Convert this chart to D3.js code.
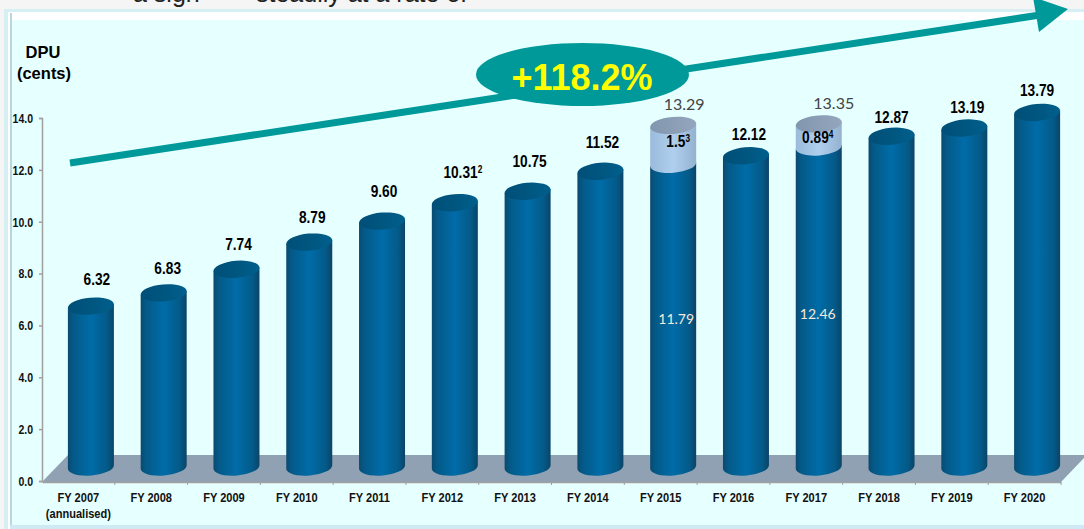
<!DOCTYPE html>
<html>
<head>
<meta charset="utf-8">
<script src="https://d3js.org/d3.v7.min.js"></script>
<style>
  html, body { margin: 0; padding: 0; background: #f5f5f5; overflow: hidden; }
  svg { display: block; }
  .axis text { font-family: 'Liberation Sans', sans-serif; font-weight: bold; font-size: 13.5px; fill: #111; }
  .axis path, .axis line { stroke: #a0a0a0; stroke-width: 1.5; }
  .bold-label { font-family: 'Liberation Sans', sans-serif; font-weight: bold; font-size: 16.5px; fill: #000; text-anchor: middle; }
  .thin-label { font-family: Lato, sans-serif; text-anchor: middle; }
</style>
</head>
<body>
<div id="chart"></div>
<script>
  const categories = ['FY 2007', 'FY 2008', 'FY 2009', 'FY 2010', 'FY 2011', 'FY 2012', 'FY 2013',
    'FY 2014', 'FY 2015', 'FY 2016', 'FY 2017', 'FY 2018', 'FY 2019', 'FY 2020'];
  const dpu = [6.32, 6.83, 7.74, 8.79, 9.6, 10.31, 10.75, 11.52, 11.79, 12.12, 12.46, 12.87, 13.19, 13.79];
  const extra = [0, 0, 0, 0, 0, 0, 0, 0, 1.5, 0, 0.89, 0, 0, 0];
  const footnotes = ['', '', '', '', '', '2', '', '', '3', '', '4', '', '', ''];
  const yTicks = [0, 2, 4, 6, 8, 10, 12, 14];
  const growthLabel = '+118.2%';

  const width = 1084;
  const height = 529;
  const margin = { top: 118, right: 23, bottom: 48, left: 42 };

  // the 3d look: bars stand back from the axis plane
  const depthX = 12.5;
  const depthY = 11;
  const baseY = 467;
  const barHalf = 23;
  const barRy = 8.5;
  const tiltDeg = -5;
  const tilt = barHalf * Math.tan((tiltDeg * Math.PI) / 180);

  // the labels were placed by hand in the original, so they need hand nudges
  const labelGap = {
    'FY 2007': [6, -21.5], 'FY 2008': [4, -18.5], 'FY 2009': [2, -19], 'FY 2010': [3, -19.5],
    'FY 2011': [2, -24.5], 'FY 2012': [8, -25], 'FY 2013': [2, -24], 'FY 2014': [2, -23],
    'FY 2016': [3, -16], 'FY 2018': [0, -13], 'FY 2019': [3, -14.5], 'FY 2020': [0, -16]
  };

  const svg = d3.select('#chart').append('svg')
    .attr('width', width)
    .attr('height', height);

  const xScale = d3.scaleBand()
    .domain(categories)
    .range([margin.left, width - margin.right]);

  const yScale = d3.scaleLinear()
    .domain([0, 14])
    .range([height - margin.bottom, margin.top]);

  const defs = svg.append('defs');

  function cylinderGradient(id, stops) {
    const g = defs.append('linearGradient').attr('id', id);
    stops.forEach(([offset, color]) => {
      g.append('stop').attr('offset', offset).attr('stop-color', color);
    });
  }
  cylinderGradient('barBody', [[0, '#0a4a70'], [0.12, '#045a88'], [0.5, '#006ca8'], [0.85, '#045a88'], [1, '#0b4468']]);
  cylinderGradient('barTop', [[0, '#004f78'], [0.5, '#00567f'], [1, '#005f8c']]);
  cylinderGradient('paleBody', [[0, '#9bbbdc'], [0.5, '#b0cfee'], [1, '#94b2d0']]);
  cylinderGradient('paleTop', [[0, '#8296ad'], [1, '#93a6bd']]);

  // the font list has no narrow face, so squeeze the text around its anchor
  function squeeze(sel, k) {
    sel.attr('transform', function () {
      const x = +d3.select(this).attr('x') || 0;
      return `translate(${x},0) scale(${k},1) translate(${-x},0)`;
    });
  }

  // slide frame
  svg.append('rect').attr('x', 4).attr('y', 9).attr('width', width).attr('height', height)
    .attr('fill', '#d6eff2');
  svg.append('rect').attr('x', 8).attr('y', 12).attr('width', width).attr('height', height)
    .attr('fill', '#ffffff');
  svg.append('rect').attr('x', 10).attr('y', 20).attr('width', width).attr('height', 525 - 20)
    .attr('fill', '#e6ffff');
  svg.append('rect').attr('x', 10).attr('y', 13).attr('width', 2).attr('height', 512)
    .attr('fill', '#b9d6e0');
  svg.append('rect').attr('x', 10).attr('y', 525).attr('width', width).attr('height', 4)
    .attr('fill', '#cfeaf4');

  // what is left of the heading, cut off by the crop
  svg.append('text').attr('x', 133).attr('y', 2)
    .style('font-family', 'Liberation Sans').style('font-size', '25px').style('fill', '#222')
    .text('a sign');
  svg.append('text').attr('x', 256).attr('y', 2)
    .style('font-family', 'Liberation Sans').style('font-size', '25px').style('fill', '#222')
    .text('steadily at a rate of');

  // floor
  const x0 = xScale.range()[0];
  const x1 = xScale.range()[1];
  const floorY = yScale(0) + 1;
  svg.append('path')
    .attr('d', d3.line()([[x0, floorY], [x1, floorY], [x1 + 26, floorY - 27], [x0 + 26, floorY - 27]]) + 'Z')
    .attr('fill', '#8fa1b2');

  const yAxis = d3.axisLeft(yScale)
    .tickValues(yTicks)
    .tickFormat(d3.format('.1f'))
    .tickSize(3)
    .tickPadding(6);
  const yG = svg.append('g')
    .attr('class', 'axis')
    .attr('transform', `translate(${margin.left},0)`)
    .call(yAxis);
  squeeze(yG.selectAll('text'), 0.78);

  const xAxis = d3.axisBottom(xScale).tickValues([]).tickSizeOuter(0);
  svg.append('g')
    .attr('class', 'axis')
    .attr('transform', `translate(0,${floorY})`)
    .call(xAxis);

  // band boundary ticks, d3 centres the stock ones
  svg.append('g').selectAll('line')
    .data(categories)
    .join('line')
    .attr('x1', (d) => xScale(d) + xScale.bandwidth())
    .attr('x2', (d) => xScale(d) + xScale.bandwidth())
    .attr('y1', floorY)
    .attr('y2', floorY + 3)
    .attr('stroke', '#a0a0a0');

  const catLabels = svg.append('g').attr('class', 'axis');
  catLabels.selectAll('text')
    .data(categories)
    .join('text')
    .attr('x', (d) => xScale(d) + xScale.bandwidth() / 2)
    .attr('y', 502)
    .attr('text-anchor', 'middle')
    .text((d) => d);
  catLabels.append('text')
    .attr('x', xScale(categories[0]) + xScale.bandwidth() / 2)
    .attr('y', 518)
    .attr('text-anchor', 'middle')
    .text('(annualised)');
  squeeze(catLabels.selectAll('text'), 0.82);

  const centre = (d) => xScale(d) + xScale.bandwidth() / 2 + depthX;
  const level = (v) => yScale(v) - depthY;

  // side walls plus the lower curve of one cylinder piece
  function bodyPath(cx, yTop, yBottom) {
    const r = barHalf / Math.cos((tiltDeg * Math.PI) / 180);
    return `M${cx - barHalf},${yTop - tilt}` +
      `L${cx - barHalf},${yBottom - tilt}` +
      `A${r},${barRy},${tiltDeg},0,0,${cx + barHalf},${yBottom + tilt}` +
      `L${cx + barHalf},${yTop + tilt}Z`;
  }

  function topEllipse(parent, cx, cy, fill) {
    parent.append('ellipse')
      .attr('cx', cx)
      .attr('cy', cy)
      .attr('rx', barHalf / Math.cos((tiltDeg * Math.PI) / 180))
      .attr('ry', barRy)
      .attr('transform', `rotate(${tiltDeg},${cx},${cy})`)
      .attr('fill', fill);
  }

  const rows = categories.map((c, i) => ({ c, value: dpu[i], extra: extra[i], note: footnotes[i] }));

  svg.append('g').selectAll('g')
    .data(rows)
    .join('g')
    .each(function (d) {
      const bar = d3.select(this);
      const cx = centre(d.c);
      bar.append('path')
        .attr('d', bodyPath(cx, level(d.value), baseY))
        .attr('fill', 'url(#barBody)');
      if (d.extra > 0) {
        // pale top-up sits over the dark body so its lower curve shows
        const total = d.value + d.extra;
        bar.append('path')
          .attr('d', bodyPath(cx, level(total), level(d.value)))
          .attr('fill', 'url(#paleBody)');
        topEllipse(bar, cx, level(total), 'url(#paleTop)');
      } else {
        topEllipse(bar, cx, level(d.value), 'url(#barTop)');
      }
    });

  // labels above the plain bars
  const plain = rows.filter((d) => d.extra === 0);
  const plainLabels = svg.append('g').selectAll('text')
    .data(plain)
    .join('text')
    .attr('class', 'bold-label')
    .attr('x', (d) => centre(d.c) + labelGap[d.c][0])
    .attr('y', (d) => level(d.value) + labelGap[d.c][1]);
  plainLabels.append('tspan').text((d) => d3.format('.2f')(d.value));
  plainLabels.filter((d) => d.note).append('tspan')
    .attr('dy', -5)
    .style('font-size', '10px')
    .text((d) => d.note);
  squeeze(plainLabels, 0.83);

  // stacked bars get the total, the top-up and the base
  const stacked = rows.filter((d) => d.extra > 0);
  svg.append('g').selectAll('text')
    .data(stacked)
    .join('text')
    .attr('class', 'thin-label')
    .attr('x', (d) => centre(d.c) + (d.c === 'FY 2015' ? 11 : 15))
    .attr('y', (d) => level(d.value + d.extra) - 15)
    .style('font-size', '16px')
    .attr('fill', '#444')
    .text((d) => d3.format('.2f')(d.value + d.extra));

  const topUp = svg.append('g').selectAll('text')
    .data(stacked)
    .join('text')
    .attr('class', 'bold-label')
    .attr('x', (d) => centre(d.c) + (d.c === 'FY 2015' ? 5 : -1))
    .attr('y', (d) => level(d.value + d.extra) + (d.c === 'FY 2015' ? 21.5 : 19));
  topUp.append('tspan').text((d) => d3.format('.3~f')(d.extra));
  topUp.append('tspan')
    .attr('dy', -5)
    .style('font-size', '10px')
    .text((d) => d.note);
  squeeze(topUp, 0.83);

  svg.append('g').selectAll('text')
    .data(stacked)
    .join('text')
    .attr('class', 'thin-label')
    .attr('x', (d) => centre(d.c) + (d.c === 'FY 2015' ? 3 : -1))
    .attr('y', (d) => (d.c === 'FY 2015' ? 324 : 319))
    .style('font-size', '14px')
    .attr('fill', '#f6e8d8')
    .text((d) => d3.format('.2f')(d.value));

  // growth arrow
  const arrowColor = '#009999';
  svg.append('line')
    .attr('x1', 70).attr('y1', 163)
    .attr('x2', 1040).attr('y2', 15)
    .attr('stroke', arrowColor)
    .attr('stroke-width', 7);
  svg.append('path')
    .attr('d', d3.line()([[1068, 9], [1039, 32], [1033, -3]]) + 'Z')
    .attr('fill', arrowColor);
  svg.append('ellipse')
    .attr('cx', 582.5).attr('cy', 74.5)
    .attr('rx', 106.5).attr('ry', 31.5)
    .attr('fill', arrowColor);
  svg.append('text')
    .attr('x', 582).attr('y', 90)
    .attr('text-anchor', 'middle')
    .style('font-family', 'Liberation Sans')
    .style('font-weight', 'bold')
    .style('font-size', '36px')
    .style('fill', '#ffff00')
    .text(growthLabel);

  // unit label
  const unit = svg.append('g')
    .style('font-family', 'Liberation Sans')
    .style('font-weight', 'bold')
    .style('font-size', '16.5px')
    .style('fill', '#000')
    .attr('text-anchor', 'middle');
  unit.append('text').attr('x', 43).attr('y', 58).text('DPU');
  unit.append('text').attr('x', 44).attr('y', 79).text('(cents)');
</script>
</body>
</html>
